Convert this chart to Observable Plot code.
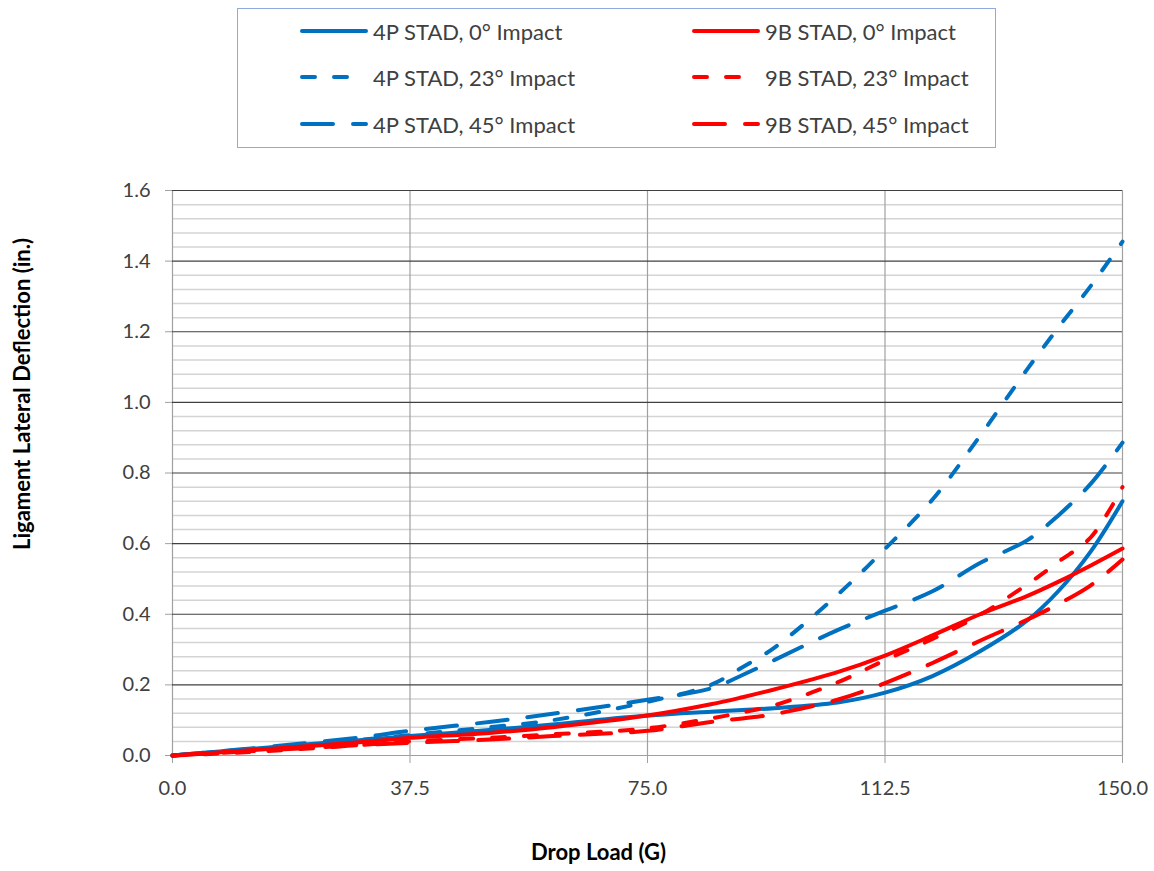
<!DOCTYPE html>
<html>
<head>
<meta charset="utf-8">
<script src="https://cdn.jsdelivr.net/npm/d3@7"></script>
<script src="https://cdn.jsdelivr.net/npm/@observablehq/plot@0.6"></script>
<style>
  html, body { margin: 0; padding: 0; background: #fff; }
  #legend {
    position: relative; margin: 8px 0 0 237px; width: 759px; height: 140px;
    border: 1px solid #8FAADC; box-sizing: border-box;
    font-family: Lato, "Open Sans", sans-serif; font-size: 22px; color: #404040;
  }
  .item { position: absolute; height: 26px; display: flex; align-items: center; white-space: nowrap; }
  .item svg { display: block; margin-right: 5px; }
</style>
</head>
<body>
<div id="legend"></div>
<div id="chart"></div>
<script>
// ---- data ----
const loads = [0, 10, 20, 30, 37.5, 50, 60, 75, 85, 90, 95, 105, 112.5, 120, 127.5, 135, 140, 145, 150];

const p4_0  = [0, 0.015, 0.030, 0.044, 0.055, 0.072, 0.088, 0.113, 0.124, 0.129, 0.134, 0.150, 0.178, 0.225, 0.295, 0.383, 0.468, 0.578, 0.720];
const p4_23 = [0, 0.014, 0.028, 0.045, 0.058, 0.080, 0.100, 0.152, 0.200, 0.250, 0.305, 0.455, 0.585, 0.725, 0.905, 1.095, 1.215, 1.330, 1.455];
const p4_45 = [0, 0.016, 0.033, 0.052, 0.070, 0.095, 0.118, 0.158, 0.190, 0.228, 0.270, 0.355, 0.410, 0.465, 0.545, 0.610, 0.682, 0.770, 0.886];
const b9_0  = [0, 0.012, 0.025, 0.038, 0.050, 0.064, 0.080, 0.113, 0.145, 0.165, 0.187, 0.236, 0.283, 0.340, 0.400, 0.452, 0.493, 0.538, 0.586];
const b9_23 = [0, 0.008, 0.018, 0.030, 0.040, 0.050, 0.060, 0.077, 0.105, 0.122, 0.142, 0.207, 0.270, 0.330, 0.398, 0.485, 0.550, 0.618, 0.760];
const b9_45 = [0, 0.010, 0.020, 0.030, 0.036, 0.045, 0.055, 0.070, 0.095, 0.105, 0.117, 0.158, 0.205, 0.262, 0.325, 0.385, 0.430, 0.482, 0.555];

const seriesNames = ["4P STAD, 0° Impact", "4P STAD, 23° Impact", "4P STAD, 45° Impact",
                     "9B STAD, 0° Impact", "9B STAD, 23° Impact", "9B STAD, 45° Impact"];
const seriesValues = [p4_0, p4_23, p4_45, b9_0, b9_23, b9_45];

const xTicks = [0, 37.5, 75, 112.5, 150];
const yTicks = [0, 0.2, 0.4, 0.6, 0.8, 1.0, 1.2, 1.4, 1.6];
const xLabel = "Drop Load (G)";
const yLabel = "Ligament Lateral Deflection (in.)";

// ---- styles ----
const BLUE = "#0070C0", RED = "#FF0000";
const styleOf = [
  {stroke: BLUE, dash: null}, {stroke: BLUE, dash: "13,19"}, {stroke: BLUE, dash: "31,20"},
  {stroke: RED, dash: null},  {stroke: RED, dash: "13,19"},  {stroke: RED, dash: "31,20"}
];

// ---- legend ----
const legend = document.getElementById("legend");
const legendPos = [[62, 9], [62, 55], [62, 102], [454, 9], [454, 55], [454, 102]];
seriesNames.forEach((name, i) => {
  const d = document.createElement("div");
  d.className = "item";
  d.style.left = legendPos[i][0] + "px";
  d.style.top = legendPos[i][1] + "px";
  const s = styleOf[i];
  d.innerHTML = `<svg width="68" height="10"><line x1="2" y1="5" x2="66" y2="5" stroke="${s.stroke}" stroke-width="4" stroke-linecap="round" ${s.dash ? `stroke-dasharray="${s.dash}"` : ""}/></svg><span>${name}</span>`;
  legend.appendChild(d);
});

// ---- chart ----
const minor = d3.range(0, 1.6001, 0.04).filter(v => Math.abs(v / 0.2 - Math.round(v / 0.2)) > 1e-6);
const major = yTicks.filter(v => v > 0);

const lineMarks = seriesValues.map((vals, i) =>
  Plot.line(loads.map((x, j) => ({x, y: vals[j]})), {
    x: "x", y: "y", stroke: styleOf[i].stroke, strokeWidth: 4,
    strokeDasharray: styleOf[i].dash || undefined, strokeLinecap: "round",
    curve: "catmull-rom"
  })
);

const chart = Plot.plot({
  width: 1154, height: 723,
  marginLeft: 172, marginRight: 32, marginTop: 42, marginBottom: 116,
  x: {domain: [0, 150]},
  y: {domain: [0, 1.6]},
  style: {fontFamily: "Lato, 'Open Sans', sans-serif", fontSize: "20px", color: "#404040", background: "#fff", overflow: "visible"},
  marks: [
    Plot.ruleY(minor, {stroke: "#D4D4D4", strokeWidth: 1.5}),
    Plot.ruleX(xTicks, {stroke: "#A0A0A0", strokeWidth: 1.2}),
    Plot.ruleY(major, {stroke: "#404040", strokeWidth: 1.2}),
    Plot.ruleY([0], {stroke: "#A0A0A0", strokeWidth: 1.2}),
    Plot.axisY(yTicks, {tickFormat: d => d.toFixed(1), tickSize: 7, tickPadding: 15, stroke: "#A0A0A0", fill: "#404040", label: null}),
    Plot.axisX(xTicks, {tickFormat: d => d.toFixed(1), tickSize: 8, tickPadding: 17, stroke: "#A0A0A0", fill: "#404040", label: null}),
    ...lineMarks,
    Plot.text([yLabel], {frameAnchor: "left", textAnchor: "middle", rotate: -90, dx: -150, dy: -79, fontWeight: "bold", fontSize: 22, fill: "#000"}),
    Plot.text([xLabel], {frameAnchor: "bottom", textAnchor: "middle", dx: -49, dy: 104, fontWeight: "bold", fontSize: 22, fill: "#000"})
  ]
});
document.getElementById("chart").appendChild(chart);
</script>
</body>
</html>
